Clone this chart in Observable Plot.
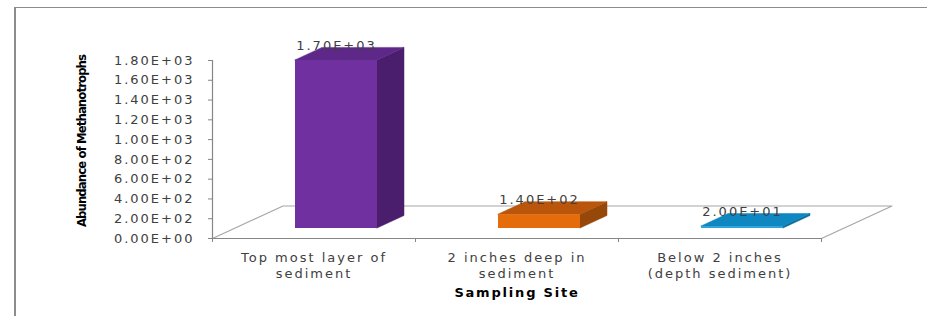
<!DOCTYPE html>
<html>
<head>
<meta charset="utf-8">
<script src="https://cdn.jsdelivr.net/npm/d3@7"></script>
<script src="https://cdn.jsdelivr.net/npm/@observablehq/plot@0.6"></script>
<style>
  body { margin: 0; background: #fff; }
  #wrap { position: relative; width: 927px; height: 316px; overflow: hidden; background: #fff; }
  #wrap svg { position: absolute; left: 0; top: 0; }
  #frame { position: absolute; left: 14px; top: 7px; width: 960px; height: 400px;
           border-top: 1px solid #8c8c8c; border-left: 2px solid #8c8c8c; pointer-events: none; }
</style>
</head>
<body>
<div id="wrap"><div id="frame"></div></div>
<script>
// ---- data ----
const categories = ["Top most layer of\nsediment", "2 inches deep in\nsediment", "Below 2 inches\n(depth sediment)"];
const values = [1700, 140, 20];
const valueLabels = ["1.70E+03", "1.40E+02", "2.00E+01"];
const yTicks = [0, 200, 400, 600, 800, 1000, 1200, 1400, 1600, 1800];
const yTickLabels = ["0.00E+00", "2.00E+02", "4.00E+02", "6.00E+02", "8.00E+02",
                     "1.00E+03", "1.20E+03", "1.40E+03", "1.60E+03", "1.80E+03"];
const frontColors = ["#7030A0", "#E46C0A", "#2FA3DA"];
const topColors   = ["#5E2889", "#B9560B", "#0F87C0"];
const sideColors  = ["#4A1E6C", "#96470A", "#0A6A99"];
const yTitle = "Abundance of Methanotrophs";
const xTitle = "Sampling Site";

// ---- layout ----
const W = 927, H = 316, ML = 212, MR = 106, MT = 60, MB = 78;
const pxX = (W - ML - MR) / 3;          // px per category unit
const pxY = (H - MT - MB) / 1800;       // px per value unit
const toX = (px) => px / pxX, toY = (px) => px / pxY;
const halfW = toX(41);                  // half bar width
const faceDX = toX(22.5), faceDY = toY(10);   // front face set back into floor
const depthDX = toX(27), depthDY = toY(12.5); // bar depth
const floorDX = toX(70.5), floorDY = toY(32.5);

const idx = values.map((_, i) => i);
const xBounds = [-0.5, 0.5, 1.5, 2.5];

const floorPts = [
  {x: -0.5, y: 0},
  {x: -0.5 + floorDX, y: floorDY},
  {x: 2.5 + floorDX, y: floorDY},
  {x: 2.5, y: 0}
];

const topPts = idx.flatMap(i => [
  {i, y: values[i] + faceDY, x1: i - halfW + faceDX, x2: i + halfW + faceDX},
  {i, y: values[i] + faceDY + depthDY, x1: i - halfW + faceDX + depthDX, x2: i + halfW + faceDX + depthDX}
]);
const sidePts = idx.flatMap(i => [
  {i, x: i + halfW + faceDX, y1: faceDY, y2: values[i] + faceDY},
  {i, x: i + halfW + faceDX + depthDX, y1: faceDY + depthDY, y2: values[i] + faceDY + depthDY}
]);

const chart = Plot.plot({
  width: W, height: H,
  marginLeft: ML, marginRight: MR, marginTop: MT, marginBottom: MB,
  x: {domain: [-0.5, 2.5], axis: null},
  y: {domain: [0, 1800], axis: null},
  color: {type: "identity"},
  style: {fontFamily: "'DejaVu Sans', Verdana, sans-serif", fontSize: "13px", color: "#404040", background: "transparent", overflow: "visible"},
  marks: [
    // floor outline
    Plot.line(floorPts, {x: "x", y: "y", stroke: "#a6a6a6", strokeWidth: 1.2}),
    // axes lines
    Plot.ruleY([0], {x1: -0.5, x2: 2.5, stroke: "#868686", strokeWidth: 1.2}),
    Plot.ruleX([-0.5], {y1: 0, y2: 1800, stroke: "#868686", strokeWidth: 1.2}),
    Plot.axisY(yTicks, {tickSize: 4, tickPadding: 14, stroke: "#868686",
      tickFormat: d => yTickLabels[yTicks.indexOf(d)], fill: "#404040", fontSize: 13}),
    Plot.axisX(xBounds, {tickSize: 4, stroke: "#868686", tickFormat: () => ""}),
    Plot.axisX(idx, {tickSize: 0, tickPadding: 12, tickFormat: d => categories[d],
      fill: "#404040", fontSize: 13, lineHeight: 1.23}),
    // bars: side, top, front
    Plot.areaY(sidePts, {x: "x", y1: "y1", y2: "y2", z: "i", fill: d => sideColors[d.i], stroke: d => sideColors[d.i], strokeWidth: 0.5}),
    Plot.areaX(topPts, {y: "y", x1: "x1", x2: "x2", z: "i", fill: d => topColors[d.i], stroke: d => topColors[d.i], strokeWidth: 0.5}),
    Plot.rectY(idx, {x1: i => i - halfW + faceDX, x2: i => i + halfW + faceDX,
      y1: faceDY, y2: i => values[i] + faceDY, fill: i => frontColors[i], inset: 0}),
    // value labels
    Plot.text(idx, {x: i => i + faceDX, y: i => values[i] + faceDY, text: i => valueLabels[i],
      dy: -15, fill: "#404040", fontSize: 13}),
    // titles
    Plot.text([yTitle], {frameAnchor: "left", textAnchor: "middle", rotate: -90, dx: -131, dy: -8.5, text: d => d,
      fontWeight: "bold", fontSize: 13, fill: "#000",
      fontFamily: "'DejaVu Sans Condensed', 'Liberation Sans Narrow', 'DejaVu Sans', sans-serif"}),
    Plot.text([xTitle], {frameAnchor: "bottom", dy: 58, text: d => d,
      fontWeight: "bold", fontSize: 13, fill: "#000"})
  ]
});
// widen the lettering like the reference's stretched type
d3.select(chart).selectAll("text").each(function() {
  const t = this.textContent;
  this.style.letterSpacing = t === yTitle ? "-0.9px" : t === xTitle ? "1.8px" : "2px";
});
d3.select(chart).selectAll("tspan").style("letter-spacing", "2px");
document.getElementById("wrap").appendChild(chart);
</script>
</body>
</html>
